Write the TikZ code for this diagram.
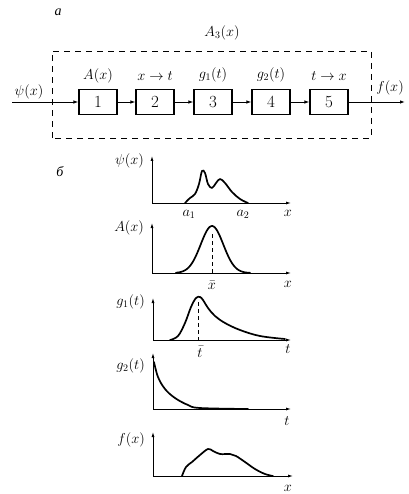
\documentclass[tikz,border=0pt]{standalone}
\usepackage{fontspec}
\newfontfamily\cyr{Liberation Serif}
\usetikzlibrary{arrows.meta}
\begin{document}
\begin{tikzpicture}[x=1pt,y=-1pt,font=\fontsize{14}{16}\selectfont,
  blk/.style={draw,line width=1.2pt,minimum width=38pt,minimum height=25pt,inner sep=0pt,font=\fontsize{17}{19}\selectfont},
  conn/.style={line width=0.9pt,-{Latex[length=5pt,width=3.5pt]}},
  axis/.style={line width=0.8pt,-{Latex[length=5pt,width=3pt]}},
  crv/.style={line width=1.7pt,line join=round,line cap=round},
  dsh/.style={line width=0.7pt,dash pattern=on 6pt off 5pt},
  dsv/.style={line width=0.6pt,dash pattern=on 4pt off 3pt},
  glbl/.style={anchor=east,inner sep=1pt},
  tlbl/.style={inner sep=1pt}]
\useasboundingbox (0,0) rectangle (408,494);
% ---- part a ----
\node[tlbl] (ta) at (58,12) {\cyr\itshape а};
\node[tlbl] (A3) at (222,33) {$A_3(x)$};
\draw[dsh] (52,138) -- (52,51) -- (371,51) -- (371,138) -- cycle;
\coordinate (in) at (12,102);
\coordinate (out) at (405,102);
\node[blk] (b1) at (98,102) {1};
\node[blk] (b2) at (155,102) {2};
\node[blk] (b3) at (213,102) {3};
\node[blk] (b4) at (271,102) {4};
\node[blk] (b5) at (329,102) {5};
\draw[conn] (in) -- (b1);
\draw[conn] (b1) -- (b2);
\draw[conn] (b2) -- (b3);
\draw[conn] (b3) -- (b4);
\draw[conn] (b4) -- (b5);
\draw[conn] (b5) -- (out);
\node[tlbl] (l1) at (98,76) {$A(x)$};
\node[tlbl] (l2) at (155,76) {$x\to t$};
\node[tlbl] (l3) at (213,75) {$g_1(t)$};
\node[tlbl] (l4) at (271,75) {$g_2(t)$};
\node[tlbl] (l5) at (329,76) {$t\to x$};
\node[tlbl] (lpsi) at (29,92) {$\psi(x)$};
\node[tlbl] (lf) at (390,88) {$f(x)$};
% ---- part b ----
\node[tlbl] (tb) at (60,172) {\cyr\itshape б};
% graph 1
\coordinate (o1) at (152,203);
\coordinate (v1) at (152,156);
\coordinate (h1) at (291,203);
\draw[axis] (o1) -- (v1);
\draw[axis] (o1) -- (h1);
\node[glbl] (g1l) at (145,161) {$\psi(x)$};
\draw[crv] plot[smooth,tension=0.6] coordinates {(185,203) (190,198) (195,194) (199,184) (202,171) (205,173) (208,184) (212,188) (216,183) (220,179) (225,183) (232,192) (240,199) (248,203)};
\node[tlbl] (a1) at (189,214) {$a_1$};
\node[tlbl] (a2) at (243,214) {$a_2$};
\node[tlbl] (x1) at (288,213) {$x$};
% graph 2
\coordinate (o2) at (152,273);
\coordinate (v2) at (152,223);
\coordinate (h2) at (291,273);
\draw[axis] (o2) -- (v2);
\draw[axis] (o2) -- (h2);
\node[glbl] (g2l) at (145,228) {$A(x)$};
\draw[crv] plot[domain=176:250,samples=60,smooth] (\x,{273-47*exp(-((\x-212)/16)^2)});
\draw[dsv] (212,234) -- (212,273);
\node[tlbl] (xb) at (212,285) {$\bar{x}$};
\node[tlbl] (x2) at (288,284) {$x$};
% graph 3
\coordinate (o3) at (153,340);
\coordinate (v3) at (153,298);
\coordinate (h3) at (291,340);
\draw[axis] (o3) -- (v3);
\draw[axis] (o3) -- (h3);
\node[glbl] (g3l) at (146,302) {$g_1(t)$};
\draw[crv] plot[smooth,tension=0.6] coordinates {(170,340) (178,336) (185,323) (191,307) (196,298) (200,297) (203,300) (208,308) (215,316) (225,323) (240,330) (260,336) (285,339)};
\draw[dsv] (198,302) -- (198,340);
\node[tlbl] (tb3) at (200,352) {$\bar{t}$};
\node[tlbl] (t3) at (288,349) {$t$};
% graph 4
\coordinate (o4) at (153,409);
\coordinate (v4) at (153,353);
\coordinate (h4) at (291,409);
\draw[axis] (o4) -- (v4);
\draw[axis] (o4) -- (h4);
\node[glbl] (g4l) at (146,366) {$g_2(t)$};
\draw[crv] plot[smooth,tension=0.6] coordinates {(154,362) (158,377) (165,389) (175,398) (188,405) (200,408) (248,409)};
\node[tlbl] (t4) at (287,421) {$t$};
% graph 5
\coordinate (o5) at (153,476);
\coordinate (v5) at (153,432);
\coordinate (h5) at (293,476);
\draw[axis] (o5) -- (v5);
\draw[axis] (o5) -- (h5);
\node[glbl] (g5l) at (146,440) {$f(x)$};
\draw[crv] plot[smooth,tension=0.6] coordinates {(182,476) (186,467) (192,462) (200,455) (208,449) (213,451) (220,454) (230,454) (236,456) (245,462) (255,469) (265,474) (273,476)};
\node[tlbl] (x5) at (288,488) {$x$};
\end{tikzpicture}
\end{document}
